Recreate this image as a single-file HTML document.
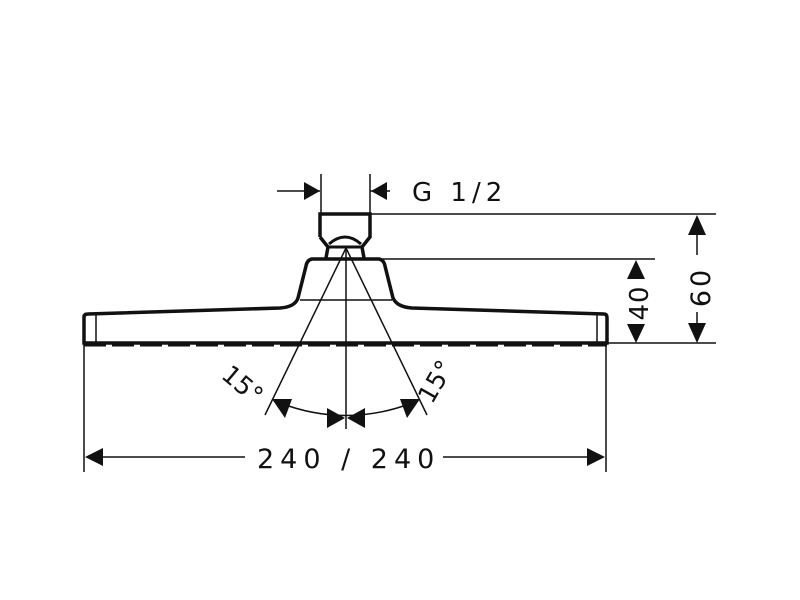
<!DOCTYPE html>
<html><head><meta charset="utf-8"><style>
html,body{margin:0;padding:0;background:#fff;width:800px;height:600px;overflow:hidden}
svg text{font-family:"DejaVu Sans","Liberation Sans",sans-serif;fill:#111;font-weight:normal}
</style></head><body>
<svg width="800" height="600" viewBox="0 0 800 600" xmlns="http://www.w3.org/2000/svg">
<g stroke="#111" fill="none" stroke-linecap="butt">
<line x1="277" y1="191" x2="320" y2="191" stroke-width="1.5"/>
<line x1="370" y1="191" x2="390" y2="191" stroke-width="1.5"/>
<line x1="321" y1="174" x2="321" y2="213" stroke-width="1.5"/>
<line x1="370" y1="174" x2="370" y2="213" stroke-width="1.5"/>
<path d="M320 237 L320 214 L370 214 L370 237 L362 247 L364 258 M320 237 L328 247 L326 258" stroke-width="3.5"/>
<path d="M329 244 Q345 230 361 244 M329 247 L361 247" stroke-width="3"/>
<path d="M312 259 L379 259 Q384 260 385 266 L393 298 Q397 307 412 308 L604 314 Q607 314 607 318 L607 343 L84 343 L84 317 Q84 314 88 314 L280 308 Q295 307 298 298 L306 266 Q307 260 312 259 Z" stroke-width="3.5"/>
<line x1="96" y1="315" x2="96" y2="342" stroke-width="1.5"/>
<line x1="597" y1="315" x2="597" y2="342" stroke-width="1.5"/>
<line x1="300" y1="300" x2="392" y2="300" stroke-width="1.5"/>
<path d="M84 345 L607 345" stroke-width="3" stroke-dasharray="22 6"/>
<line x1="370" y1="214" x2="716" y2="214" stroke-width="1.5"/>
<line x1="381" y1="259" x2="655" y2="259" stroke-width="1.5"/>
<line x1="607" y1="343" x2="716" y2="343" stroke-width="1.5"/>
<line x1="84" y1="343" x2="84" y2="472" stroke-width="1.5"/>
<line x1="606" y1="343" x2="606" y2="472" stroke-width="1.5"/>
<line x1="697" y1="230" x2="697" y2="255" stroke-width="1.5"/>
<line x1="697" y1="312" x2="697" y2="330" stroke-width="1.5"/>
<line x1="100" y1="457" x2="245" y2="457" stroke-width="1.5"/>
<line x1="443" y1="457" x2="590" y2="457" stroke-width="1.5"/>
<line x1="346" y1="248" x2="346" y2="429" stroke-width="1.5"/>
<line x1="346" y1="248" x2="265" y2="415" stroke-width="1.5"/>
<line x1="346" y1="248" x2="427" y2="415" stroke-width="1.5"/>
<path d="M280 403 Q346 428 412 403" stroke-width="1.5"/>
</g>
<g fill="#111">
<polygon points="320,191 304,182 304,200"/>
<polygon points="371,191 387,182 387,200"/>
<polygon points="697,215 688,235 706,235"/>
<polygon points="697,343 688,323 706,323"/>
<polygon points="636,260 627,279 645,279"/>
<polygon points="636,343 627,324 645,324"/>
<polygon points="85,457 103,448 103,466"/>
<polygon points="605,457 587,448 587,466"/>
<polygon points="272,399 292,399 285,418"/>
<polygon points="420,399 400,399 407,418"/>
<polygon points="345,418 327,408 327,428"/>
<polygon points="347,418 365,408 365,428"/>
</g>
<text x="412" y="201" font-size="26" letter-spacing="5">G 1/2</text>
<text x="257" y="468" font-size="27" letter-spacing="6">240 / 240</text>
<text transform="translate(710,287) rotate(-90)" font-size="27" text-anchor="middle" letter-spacing="3">60</text>
<text transform="translate(648,303) rotate(-90)" font-size="26" text-anchor="middle" letter-spacing="1">40</text>
<text transform="translate(220,377) rotate(40)" font-size="25">15°</text>
<text transform="translate(432,405) rotate(-60)" font-size="25">15°</text>
</svg>
</body></html>
